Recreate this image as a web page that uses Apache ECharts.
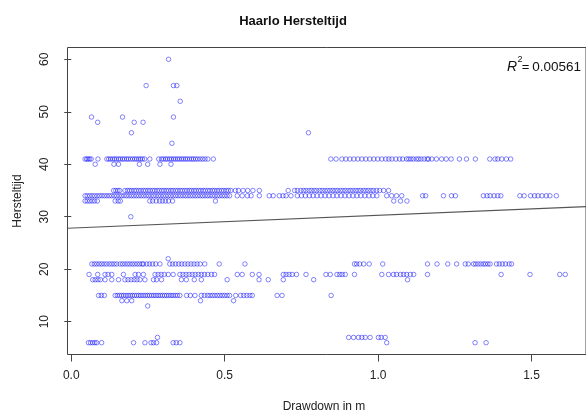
<!DOCTYPE html>
<html>
<head>
<meta charset="utf-8">
<title>Haarlo Hersteltijd</title>
<script src="https://cdn.jsdelivr.net/npm/echarts@6/dist/echarts.min.js"></script>
<style>
  html, body { margin: 0; padding: 0; background: #fff; }
  #chart { width: 586px; height: 415px; }
</style>
</head>
<body>
<div id="chart"></div>
<script>
// Drawdown (m) of each event, grouped by its recovery time (Hersteltijd)
const dd6  = [0.056, 0.063, 0.07, 0.077, 0.083, 0.099, 0.203, 0.24, 0.26, 0.268, 0.278, 0.332, 0.342, 0.354, 1.028, 1.316, 1.352];
const dd7  = [0.281, 0.904, 0.92, 0.936, 0.947, 0.958, 0.974, 1.001, 1.01, 1.023];
const dd13 = [0.249];
const dd14 = [0.165, 0.181, 0.197, 0.421, 0.529];
const dd15 = [0.089, 0.098, 0.108, 0.143, 0.15, 0.157, 0.164, 0.171, 0.178, 0.185, 0.192, 0.199, 0.206, 0.213, 0.22, 0.227,
              0.234, 0.241, 0.248, 0.255, 0.262, 0.269, 0.276, 0.283, 0.29, 0.297, 0.304, 0.311, 0.318, 0.325, 0.332, 0.339,
              0.346, 0.354, 0.376, 0.388, 0.403, 0.424, 0.434, 0.444, 0.452, 0.46, 0.468, 0.476, 0.484, 0.492, 0.5, 0.508,
              0.516, 0.536, 0.552, 0.562, 0.572, 0.582, 0.59, 0.671, 0.687, 0.847];
const dd18 = [0.07, 0.078, 0.087, 0.095, 0.11, 0.132, 0.154, 0.175, 0.185, 0.195, 0.205, 0.214, 0.224, 0.24, 0.268, 0.278,
              0.294, 0.359, 0.375, 0.401, 0.424, 0.508, 0.612, 0.642, 0.691, 0.79, 1.096];
const dd19 = [0.058, 0.086, 0.11, 0.12, 0.132, 0.17, 0.208, 0.219, 0.235, 0.273, 0.283, 0.293, 0.303, 0.316, 0.332, 0.354,
              0.364, 0.374, 0.384, 0.394, 0.404, 0.414, 0.424, 0.434, 0.445, 0.457, 0.467, 0.541, 0.557, 0.59, 0.612, 0.691,
              0.7, 0.71, 0.72, 0.734, 0.765, 0.83, 0.844, 0.866, 0.875, 0.883, 0.893, 0.923, 1.012, 1.034, 1.05, 1.06,
              1.073, 1.083, 1.093, 1.105, 1.116, 1.161, 1.401, 1.495, 1.592, 1.61];
const dd21 = [0.067, 0.075, 0.083, 0.091, 0.099, 0.107, 0.115, 0.124, 0.132, 0.14, 0.148, 0.159, 0.167, 0.175, 0.183, 0.191,
              0.199, 0.207, 0.215, 0.223, 0.231, 0.235, 0.246, 0.255, 0.265, 0.275, 0.289, 0.321, 0.33, 0.34, 0.35, 0.36,
              0.37, 0.38, 0.39, 0.4, 0.41, 0.42, 0.435, 0.482, 0.566, 0.923, 0.93, 0.94, 0.953, 0.971, 1.015, 1.161,
              1.192, 1.227, 1.256, 1.284, 1.294, 1.311, 1.318, 1.326, 1.335, 1.343, 1.35, 1.358, 1.365, 1.386, 1.395, 1.405,
              1.415, 1.427, 1.435];
const dd22 = [0.316];
const dd30 = [0.194];
const dd33 = [0.045, 0.052, 0.06, 0.068, 0.076, 0.085, 0.143, 0.153, 0.16, 0.256, 0.265, 0.277, 0.288, 0.297, 0.307, 0.317,
              0.33, 0.47, 1.051, 1.073, 1.094];
const dd34 = [0.045, 0.052, 0.06, 0.068, 0.076, 0.084, 0.092, 0.1, 0.108, 0.116, 0.124, 0.132, 0.14, 0.148, 0.156, 0.164,
              0.172, 0.18, 0.188, 0.196, 0.204, 0.212, 0.22, 0.228, 0.236, 0.244, 0.252, 0.26, 0.268, 0.276, 0.284, 0.292,
              0.3, 0.308, 0.316, 0.324, 0.332, 0.34, 0.348, 0.356, 0.364, 0.372, 0.38, 0.388, 0.396, 0.404, 0.412, 0.42,
              0.428, 0.436, 0.444, 0.452, 0.46, 0.468, 0.476, 0.484, 0.492, 0.5, 0.508, 0.516, 0.541, 0.557, 0.574, 0.586,
              0.613, 0.645, 0.658, 0.678, 0.69, 0.7, 0.716, 0.737, 0.75, 0.763, 0.776, 0.788, 0.801, 0.814, 0.827, 0.84,
              0.853, 0.866, 0.879, 0.892, 0.905, 0.918, 0.931, 0.944, 0.957, 0.97, 0.983, 0.996, 1.028, 1.044, 1.06, 1.077,
              1.145, 1.155, 1.213, 1.239, 1.252, 1.343, 1.355, 1.365, 1.378, 1.39, 1.4, 1.462, 1.476, 1.497, 1.51, 1.521,
              1.534, 1.548, 1.56, 1.581];
const dd35 = [0.138, 0.145, 0.152, 0.158, 0.175, 0.183, 0.19, 0.197, 0.205, 0.212, 0.22, 0.227, 0.235, 0.242, 0.25, 0.257,
              0.265, 0.272, 0.28, 0.287, 0.295, 0.302, 0.31, 0.317, 0.325, 0.332, 0.34, 0.347, 0.355, 0.362, 0.37, 0.377,
              0.385, 0.392, 0.4, 0.407, 0.415, 0.422, 0.43, 0.437, 0.445, 0.452, 0.46, 0.467, 0.475, 0.482, 0.49, 0.497,
              0.505, 0.512, 0.52, 0.535, 0.545, 0.56, 0.575, 0.592, 0.613, 0.707, 0.728, 0.737, 0.748, 0.757, 0.765, 0.775,
              0.783, 0.792, 0.8, 0.81, 0.818, 0.827, 0.835, 0.843, 0.852, 0.86, 0.868, 0.877, 0.885, 0.893, 0.902, 0.91,
              0.918, 0.927, 0.935, 0.943, 0.952, 0.96, 0.968, 0.977, 0.985, 0.995, 1.005, 1.018, 1.034];
const dd40 = [0.078, 0.139, 0.154, 0.222, 0.249, 0.289, 0.325];
const dd41 = [0.045, 0.05, 0.055, 0.06, 0.065, 0.087, 0.116, 0.122, 0.128, 0.135, 0.141, 0.147, 0.154, 0.16, 0.167, 0.173,
              0.18, 0.186, 0.193, 0.2, 0.207, 0.213, 0.22, 0.226, 0.232, 0.239, 0.256, 0.285, 0.294, 0.3, 0.307, 0.313,
              0.32, 0.326, 0.333, 0.339, 0.346, 0.352, 0.359, 0.365, 0.372, 0.378, 0.385, 0.392, 0.398, 0.405, 0.412, 0.42,
              0.428, 0.436, 0.445, 0.463, 0.846, 0.863, 0.882, 0.895, 0.908, 0.921, 0.934, 0.947, 0.96, 0.973, 0.986, 0.999,
              1.012, 1.025, 1.035, 1.045, 1.058, 1.07, 1.08, 1.093, 1.1, 1.107, 1.115, 1.125, 1.132, 1.14, 1.15, 1.16,
              1.164, 1.175, 1.19, 1.207, 1.222, 1.238, 1.265, 1.288, 1.317, 1.364, 1.381, 1.39, 1.403, 1.418, 1.432];
const dd44 = [0.328];
const dd46 = [0.196, 0.773];
const dd48 = [0.086, 0.205, 0.234];
const dd49 = [0.066, 0.167, 0.333];
const dd52 = [0.355];
const dd55 = [0.244, 0.333, 0.344];
const dd60 = [0.317];

const hersteltijdLevels = [6, 7, 13, 14, 15, 18, 19, 21, 22, 30, 33, 34, 35, 40, 41, 44, 46, 48, 49, 52, 55, 60];
const drawdownLists     = [dd6, dd7, dd13, dd14, dd15, dd18, dd19, dd21, dd22, dd30, dd33, dd34, dd35, dd40, dd41,
                           dd44, dd46, dd48, dd49, dd52, dd55, dd60];

// Linear fit Hersteltijd ~ Drawdown and its R-squared
const fitIntercept = 27.84;
const fitSlope = 2.44;
const rSquared = '0.00561';

const xTicks = [0, 0.5, 1.0, 1.5];
const yTicks = [10, 20, 30, 40, 50, 60];

const xMin = -0.0123, xMax = 1.6776;
const yMin = 3.75, yMax = 62.25;

const points = [];
hersteltijdLevels.forEach((h, i) => {
  drawdownLists[i].forEach(d => points.push([d, h]));
});

const FONT = '"Liberation Sans", Arial, sans-serif';
const AXIS_COLOR = '#444';
const TEXT_COLOR = '#222';

const chart = echarts.init(document.getElementById('chart'), null, { renderer: 'canvas' });

chart.setOption({
  animation: false,
  backgroundColor: '#fff',
  title: {
    text: 'Haarlo Hersteltijd',
    left: 'center',
    top: 10,
    textStyle: { fontFamily: FONT, fontSize: 13, fontWeight: 'bold', color: '#111' }
  },
  grid: {
    left: 67.5, top: 47.5, width: 520.5, height: 307,
    show: true, borderColor: AXIS_COLOR, borderWidth: 1, backgroundColor: 'transparent'
  },
  xAxis: {
    type: 'value', min: xMin, max: xMax,
    axisLine: { show: false },
    splitLine: { show: false },
    axisTick: { show: true, inside: false, length: 7, customValues: xTicks, lineStyle: { color: AXIS_COLOR } },
    axisLabel: {
      customValues: xTicks, margin: 15,
      formatter: v => v.toFixed(1),
      fontFamily: FONT, fontSize: 12, color: TEXT_COLOR
    }
  },
  yAxis: {
    type: 'value', min: yMin, max: yMax,
    axisLine: { show: false },
    splitLine: { show: false },
    axisTick: { show: true, inside: false, length: 7, customValues: yTicks, lineStyle: { color: AXIS_COLOR } },
    axisLabel: {
      customValues: yTicks, margin: 17, rotate: 90,
      fontFamily: FONT, fontSize: 12, color: TEXT_COLOR
    }
  },
  graphic: [
    { type: 'text', x: 18, y: 201, rotation: Math.PI / 2,
      style: { text: 'Hersteltijd', font: '12px ' + FONT, fill: TEXT_COLOR, align: 'center', verticalAlign: 'middle' } },
    { type: 'text', x: 324, y: 407,
      style: { text: 'Drawdown in m', font: '12px ' + FONT, fill: TEXT_COLOR, align: 'center', verticalAlign: 'middle' } },
    { type: 'text', x: 512, y: 67,
      style: { text: 'R', font: 'italic 14px ' + FONT, fill: '#111', align: 'center', verticalAlign: 'middle' } },
    { type: 'text', x: 520, y: 59.5,
      style: { text: '2', font: '9px ' + FONT, fill: '#111', align: 'center', verticalAlign: 'middle' } },
    { type: 'text', x: 525.5, y: 67,
      style: { text: '=', font: '13px ' + FONT, fill: '#111', align: 'center', verticalAlign: 'middle' } },
    { type: 'text', x: 581, y: 67,
      style: { text: rSquared, font: '13.5px ' + FONT, fill: '#111', align: 'right', verticalAlign: 'middle' } }
  ],
  series: [
    {
      type: 'scatter',
      data: points,
      symbol: 'circle',
      symbolSize: 4.5,
      itemStyle: { color: 'transparent', borderColor: 'rgba(0,0,255,0.6)', borderWidth: 1 },
      emphasis: { disabled: true },
      z: 2
    },
    {
      type: 'line',
      data: [[xMin, fitIntercept + fitSlope * xMin], [xMax, fitIntercept + fitSlope * xMax]],
      symbol: 'none',
      lineStyle: { color: '#555', width: 1.2 },
      clip: true,
      z: 3
    }
  ]
});
</script>
</body>
</html>
